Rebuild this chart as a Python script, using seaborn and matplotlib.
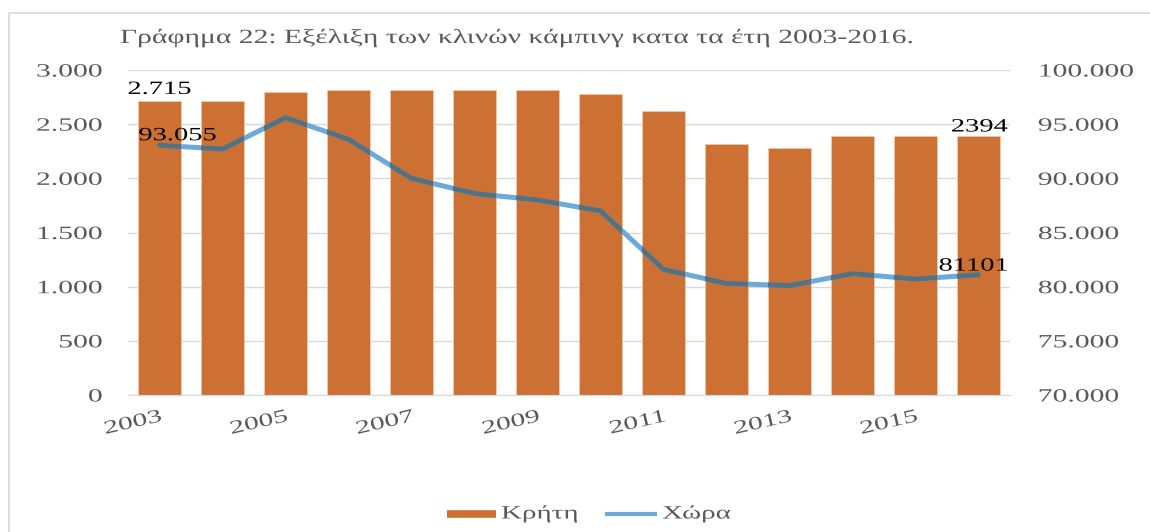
import numpy as np
import pandas as pd
import matplotlib
matplotlib.use("Agg")
import matplotlib.pyplot as plt
import seaborn as sns
from matplotlib.patches import Rectangle
from matplotlib.lines import Line2D
from matplotlib.ticker import FuncFormatter
from matplotlib.patheffects import AbstractPathEffect
from matplotlib.transforms import Affine2D

# data
years = [2003, 2004, 2005, 2006, 2007, 2008, 2009, 2010, 2011, 2012, 2013, 2014, 2015, 2016]
kriti = [2715, 2715, 2795, 2812, 2812, 2812, 2812, 2778, 2620, 2318, 2280, 2392, 2392, 2394]
xora = [93055, 92700, 95600, 93600, 90000, 88600, 88000, 87000, 81600, 80300, 80100, 81200, 80700, 81101]
tick_years = ["2003", "", "2005", "", "2007", "", "2009", "", "2011", "", "2013", "", "2015", ""]

title = "Γράφημα 22: Εξέλιξη των κλινών κάμπινγ κατα τα έτη 2003-2016."

ORANGE = "#CD7033"
BLUE = "#6DAADB"
SLATE = "#55707F"
GREY = "#595959"
FS = 13.5


# the text in the original picture is stretched sideways
class Stretch(AbstractPathEffect):
    def __init__(self, sx=1.55, anchor="left"):
        super().__init__()
        self.sx = sx
        self.anchor = anchor

    def draw_path(self, renderer, gc, tpath, affine, rgbFace=None):
        ext = tpath.get_extents()
        x0 = {"left": 0, "center": (ext.x0 + ext.x1) / 2, "right": ext.x1}[self.anchor]
        pre = Affine2D().translate(-x0, 0).scale(self.sx, 1).translate(x0, 0)
        renderer.draw_path(gc, tpath, pre + affine, rgbFace)


def thousands(v, p):
    return f"{v:,.0f}".replace(",", ".")


sns.set_style("white")
plt.rcParams["font.family"] = ["Liberation Serif", "DejaVu Serif"]

df = pd.DataFrame({"year": years, "kriti": kriti, "xora": xora})
df["pos"] = np.arange(len(df))

fig = plt.figure(figsize=(11.5, 5.32), dpi=100)
ax = fig.add_axes([128 / 1150, 1 - 395 / 532, (1010 - 128) / 1150, (395 - 70) / 532])

sns.barplot(data=df, x="pos", y="kriti", color=ORANGE, saturation=1, width=0.69,
            edgecolor="#F2C9A8", linewidth=0.6, ax=ax, zorder=2)
ax.set_xlim(-0.5, len(df) - 0.5)
ax.set_ylim(0, 3000)
ax.set_yticks(np.arange(0, 3001, 500))
ax.yaxis.set_major_formatter(FuncFormatter(thousands))
ax.grid(axis="y", color="#D9D9D9", linewidth=1, zorder=0)
ax.set_axisbelow(True)
for s in ["top", "right", "left"]:
    ax.spines[s].set_visible(False)
ax.spines["bottom"].set_color("#D9D9D9")
ax.set_xlabel("")
ax.set_ylabel("")
ax.set_xticks(df["pos"])
ax.set_xticklabels(tick_years, rotation=13, ha="right", va="top", rotation_mode="anchor")
ax.tick_params(axis="x", length=0, pad=9.5, labelsize=FS, labelcolor=GREY)
ax.tick_params(axis="y", length=0, pad=18.5, labelsize=FS, labelcolor=GREY)

ax2 = ax.twinx()
sns.lineplot(data=df, x="pos", y="xora", color=BLUE, linewidth=3.6, ax=ax2, zorder=3)
# the line looks darker where it crosses the bars
for bar in ax.patches:
    seg, = ax2.plot(df["pos"], df["xora"], color=SLATE, linewidth=3.6, zorder=4)
    seg.set_clip_path(bar)
ax2.set_ylim(70000, 100000)
ax2.set_yticks(np.arange(70000, 100001, 5000))
ax2.yaxis.set_major_formatter(FuncFormatter(thousands))
ax2.tick_params(axis="y", length=0, pad=20, labelsize=FS, labelcolor=GREY)
ax2.set_ylabel("")
ax2.grid(False)
for s in ax2.spines.values():
    s.set_visible(False)
ax2.set_xlim(-0.5, len(df) - 0.5)

# data labels
lab_kw = dict(textcoords="offset points", ha="center", va="baseline", fontsize=FS, color="black")
t1 = ax.annotate("2.715", (0, kriti[0]), xytext=(0, 5), **lab_kw)
t2 = ax.annotate(str(kriti[-1]), (len(df) - 1, kriti[-1]), xytext=(0.7, 3), **lab_kw)
t3 = ax2.annotate("93.055", (0, xora[0]), xytext=(13, 3.6), **lab_kw)
t4 = ax2.annotate(str(xora[-1]), (len(df) - 1, xora[-1]), xytext=(-3.6, 3), **lab_kw)
for t in [t1, t2, t3, t4]:
    t.set_path_effects([Stretch(1.52, "center")])

tt = fig.text(120 / 1150, 1 - 43 / 532, title, ha="left", va="baseline", fontsize=14.5, color=GREY)
tt.set_path_effects([Stretch(1.47, "left")])

for lab in ax.get_yticklabels():
    lab.set_path_effects([Stretch(1.58, "right")])
for lab in ax2.get_yticklabels():
    lab.set_path_effects([Stretch(1.58, "left")])
for lab in ax.get_xticklabels():
    lab.set_path_effects([Stretch(1.58, "right")])

# legend, drawn by hand so the stretched labels keep their spacing
ly = 1 - 514 / 532
fig.add_artist(Line2D([447 / 1150, 496 / 1150], [ly, ly], color=ORANGE, linewidth=5.5,
                      solid_capstyle="butt", transform=fig.transFigure))
fig.add_artist(Line2D([605 / 1150, 657 / 1150], [ly, ly], color=BLUE, linewidth=3,
                      solid_capstyle="butt", transform=fig.transFigure))
for x, txt in [(501, "Κρήτη"), (662, "Χώρα")]:
    lt = fig.text(x / 1150, ly, txt, ha="left", va="center", fontsize=FS, color=GREY)
    lt.set_path_effects([Stretch(1.55, "left")])

# chart frame
fig.patches.append(Rectangle((9 / 1150, -0.1), 1.2, 1 - 13 / 532 + 0.1, transform=fig.transFigure,
                             fill=False, edgecolor="#D9D9D9", linewidth=1.2))

fig.savefig("out.png", dpi=100)
